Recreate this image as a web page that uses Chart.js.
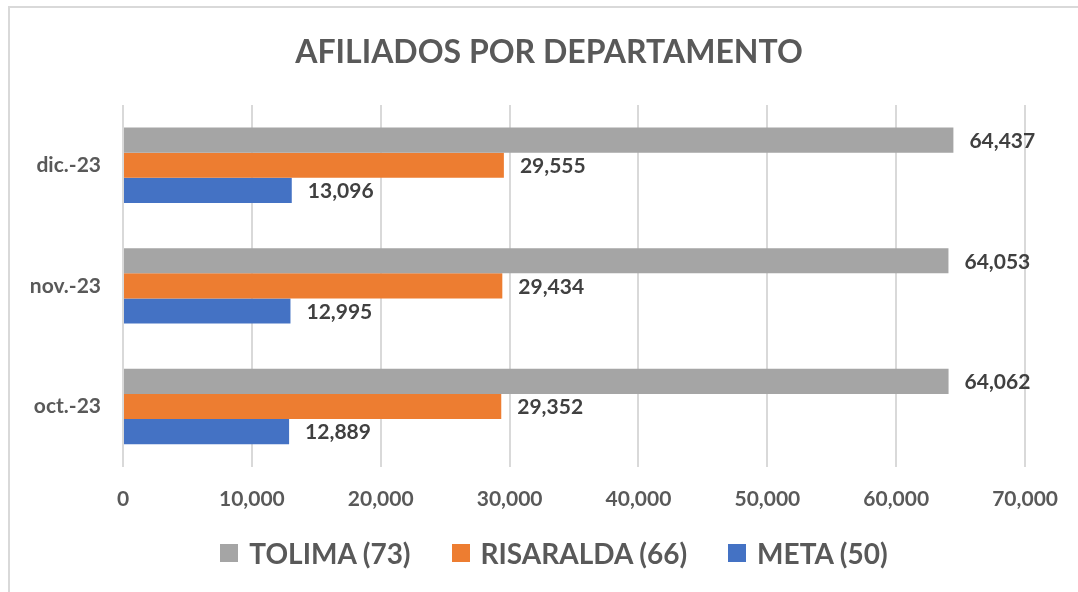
<!DOCTYPE html>
<html>
<head>
<meta charset="utf-8">
<script src="https://cdn.jsdelivr.net/npm/chart.js@4/dist/chart.umd.min.js"></script>
<style>
  html, body { margin: 0; padding: 0; background: #fff; }
  #wrap { position: relative; width: 1078px; height: 592px; overflow: hidden; }
  #frame {
    position: absolute; left: 8px; top: 6px; width: 1100px; height: 620px;
    border-left: 2px solid #d9d9d9; border-top: 2px solid #d9d9d9;
    box-sizing: border-box; pointer-events: none;
  }
  canvas { position: absolute; left: 0; top: 0; }
  #title {
    position: absolute; left: 20px; top: 32px; width: 1058px; text-align: center;
    font: bold 32px Lato, "Open Sans", sans-serif; color: #595959; line-height: 38px;
  }
  #legend {
    position: absolute; left: 0; top: 536px; width: 1078px; padding-left: 30px;
    box-sizing: border-box; display: flex; justify-content: center; align-items: center;
    font: bold 28px Lato, "Open Sans", sans-serif; color: #595959; line-height: 34px;
  }
  #legend .item { display: flex; align-items: center; }
  #legend .item + .item { margin-left: 41px; }
  #legend .box { width: 18px; height: 18px; margin-right: 11px; }
</style>
</head>
<body>
<div id="wrap">
  <canvas id="chart" width="1078" height="592"></canvas>
  <div id="title">AFILIADOS POR DEPARTAMENTO</div>
  <div id="legend"></div>
  <div id="frame"></div>
</div>
<script>
// ===============================
// DATA
// ===============================
const months = ["dic.-23", "nov.-23", "oct.-23"];
const tolima = [64437, 64053, 64062];
const risaralda = [29555, 29434, 29352];
const meta = [13096, 12995, 12889];

const seriesNames = ["TOLIMA (73)", "RISARALDA (66)", "META (50)"];
const seriesColors = ["#a5a5a5", "#ed7d31", "#4472c4"];

const FONT = "Lato, 'Open Sans', sans-serif";
const fmt = v => v.toLocaleString("en-US");

// value labels at the end of each bar
const valueLabels = {
    id: "valueLabels",
    afterDatasetsDraw(chart) {
        const ctx = chart.ctx;
        ctx.save();
        ctx.font = "bold 21px " + FONT;
        ctx.fillStyle = "#404040";
        ctx.textBaseline = "middle";
        ctx.textAlign = "left";
        chart.data.datasets.forEach((ds, i) => {
            chart.getDatasetMeta(i).data.forEach((bar, j) => {
                ctx.fillText(fmt(ds.data[j]), bar.x + 16, bar.y + 1);
            });
        });
        ctx.restore();
    }
};

const ctx = document.getElementById("chart").getContext("2d");

const chart = new Chart(ctx, {
    type: "bar",
    data: {
        labels: months,
        datasets: [
            { label: seriesNames[0], data: tolima, backgroundColor: seriesColors[0] },
            { label: seriesNames[1], data: risaralda, backgroundColor: seriesColors[1] },
            { label: seriesNames[2], data: meta, backgroundColor: seriesColors[2] }
        ]
    },
    options: {
        indexAxis: "y",
        responsive: false,
        animation: false,
        datasets: {
            bar: { categoryPercentage: 0.625, barPercentage: 1 }
        },
        layout: { padding: { left: 0, right: 12, top: 105, bottom: 60 } },
        scales: {
            x: {
                min: 0,
                max: 70000,
                ticks: {
                    stepSize: 10000,
                    callback: v => fmt(v),
                    font: { family: FONT, size: 21, weight: "bold" },
                    color: "#595959",
                    padding: 20
                },
                grid: { color: "#d9d9d9", lineWidth: 2, drawTicks: false },
                border: { display: false }
            },
            y: {
                afterFit: scale => { scale.width = 123; },
                ticks: {
                    font: { family: FONT, size: 21, weight: "bold" },
                    color: "#595959",
                    padding: 22
                },
                grid: { display: false, drawTicks: false },
                border: { display: false }
            }
        },
        plugins: {
            title: { display: false },
            legend: { display: false },
            tooltip: { enabled: false }
        }
    },
    plugins: [valueLabels]
});

// ===============================
// LEGEND (HTML, built from the datasets)
// ===============================
const legendEl = document.getElementById("legend");
chart.data.datasets.forEach(ds => {
    const item = document.createElement("div");
    item.className = "item";
    item.innerHTML = `<span class="box" style="background:${ds.backgroundColor}"></span><span>${ds.label}</span>`;
    legendEl.appendChild(item);
});
</script>
</body>
</html>
